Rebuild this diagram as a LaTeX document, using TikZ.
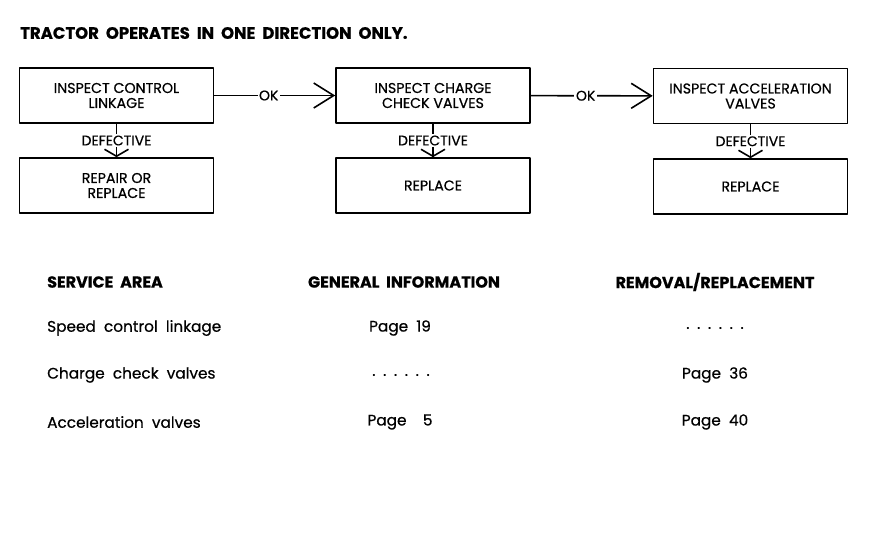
\documentclass[tikz,border=0pt]{standalone}
\usepackage{fontspec}
\setmainfont{Poppins}[FakeBold=0.6]
\usetikzlibrary{arrows.meta}

\begin{document}
\begin{tikzpicture}[line cap=round,line join=round,x=1pt,y=-1pt,
  box/.style={draw,line width=1.6pt,minimum width=194pt,minimum height=55pt,inner sep=0pt,align=center,font=\fontsize{14.2}{15}\selectfont},
  lbl/.style={fill=white,inner sep=1.5pt,font=\fontsize{14}{15}\selectfont},
  ok/.style={line width=1.6pt,-{Straight Barb[length=20pt,width=25pt,line width=1.6pt]}},
  defect/.style={line width=1.6pt,-{Straight Barb[length=7pt,width=24pt,line width=1.6pt]}},
  head/.style={inner sep=0pt,font=\bfseries\fontsize{16}{18}\selectfont},
  entry/.style={inner sep=0pt,font=\fontsize{15.3}{17}\selectfont}]
\useasboundingbox (0,0) rectangle (878,555);
\node[anchor=west,inner sep=0pt,font=\bfseries\fontsize{16.5}{18}\selectfont] (title) at (20,33) {TRACTOR\ \ OPERATES\ \ IN\ \ ONE\ \ DIRECTION\ \ ONLY.};
% flow chart
\node[box] (insp1) at (116.5,95.5) {INSPECT CONTROL\\LINKAGE};
\node[box] (fix1) at (116.5,185.5) {REPAIR OR\\REPLACE};
\node[box] (insp2) at (433,95.5) {INSPECT CHARGE\\CHECK VALVES};
\node[box] (fix2) at (433,185.5) {REPLACE};
\node[box] (insp3) at (750.5,96) {INSPECT ACCELERATION\\VALVES};
\node[box] (fix3) at (750.5,186.5) {REPLACE};
\draw[ok] (insp1) -- node[lbl,pos=0.45] {OK} (insp2);
\draw[ok] (insp2) -- node[lbl,pos=0.45] {OK} (insp3);
\draw[defect] (insp1) -- node[lbl] {DEFECTIVE} (fix1);
\draw[defect] (insp2) -- node[lbl] {DEFECTIVE} (fix2);
\draw[defect] (insp3) -- node[lbl] {DEFECTIVE} (fix3);
% table
\node[head,anchor=west] (area) at (47,282) {SERVICE\ \ AREA};
\node[head] (info) at (404,282) {GENERAL\ \ INFORMATION};
\node[head] (remv) at (715,282) {REMOVAL/REPLACEMENT};
\node[entry,anchor=west] (area1) at (47,328) {Speed\ \ control\ \ linkage};
\node[entry,anchor=west] (area2) at (47,375) {Charge\ \ check\ \ valves};
\node[entry,anchor=west] (area3) at (47,422) {Acceleration\ \ valves};
\node[entry] (info1) at (400,328) {Page\ \ 19};
\node[entry] (info2) at (401,375) {.\enspace.\enspace.\enspace.\enspace.\enspace.};
\node[entry] (info3) at (400,422) {Page\ \ \ \ 5};
\node[entry] (remv1) at (715,328) {.\enspace.\enspace.\enspace.\enspace.\enspace.};
\node[entry] (remv2) at (715,375) {Page\ \ 36};
\node[entry] (remv3) at (715,422) {Page\ \ 40};
\end{tikzpicture}
\end{document}
